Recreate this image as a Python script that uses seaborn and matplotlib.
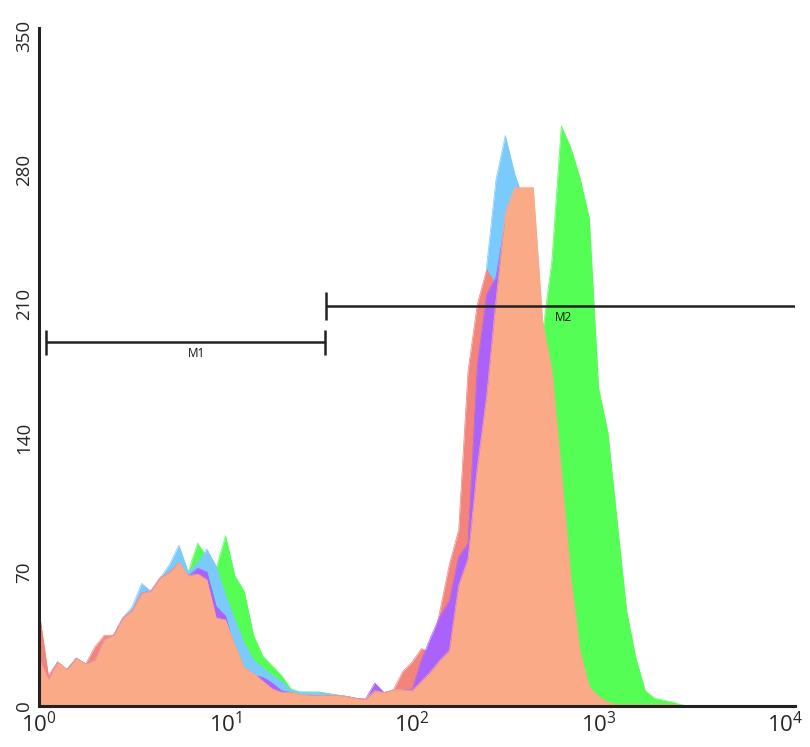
import numpy as np
import matplotlib.pyplot as plt
import seaborn as sns

# channel grid: 81 log-spaced channels from 10^0 to 10^4
channel = np.logspace(0, 4, 81)

peach = [25, 14, 23, 19, 25, 22, 24, 35, 37, 46,
         50, 59, 60, 67, 70, 75, 68, 69, 66, 46,
         45, 32, 20, 17, 13, 9, 7.2, 7, 6, 5.7,
         5.7, 5.7, 5.7, 5, 4, 3.5, 8, 7, 8.5, 8.5,
         8, 13, 18, 24, 29, 63, 77, 125, 162, 212,
         258, 271, 271, 271, 201, 175, 123, 68, 29, 10,
         5, 2, 1, 1, 1, 1, 1, 1, 1, 0,
         0, 0, 0, 0, 0, 0, 0, 0, 0, 0, 0]

red = [50, 16, 23, 19, 25, 22, 31, 37, 37, 46,
       50, 59, 60, 67, 70, 75, 68, 69, 66, 46,
       45, 32, 20, 17, 13, 9, 7, 7, 6, 5.5,
       5.5, 5.5, 5.5, 5, 4, 3.5, 8, 7, 8.5, 18,
       23, 30, 28, 50, 74, 92, 175, 210, 228, 220,
       240, 250, 240, 220, 170, 140, 95, 50, 20, 7,
       3, 1, 0, 0, 0, 0, 0, 0, 0, 0,
       0, 0, 0, 0, 0, 0, 0, 0, 0, 0, 0]

purple = [25, 14, 23, 19, 25, 22, 24, 35, 37, 46,
          50, 59, 60, 67, 70, 74, 68, 72, 70, 52,
          47, 30, 17, 16, 15, 12, 8, 7, 4, 5.5,
          5.5, 5.5, 5.5, 5, 4, 3.5, 12, 7, 8, 8.5,
          8.5, 24, 36, 47, 55, 78, 85, 178, 215, 224,
          253, 260, 255, 240, 185, 150, 105, 55, 22, 8,
          3, 1, 0, 0, 0, 0, 0, 0, 0, 0,
          0, 0, 0, 0, 0, 0, 0, 0, 0, 0, 0]

blue = [25, 14, 23, 19, 25, 22, 24, 35, 37, 46,
        52, 64, 60, 67, 74, 84, 70, 75, 82, 73,
        58, 45, 33, 24, 20, 16, 13, 8.4, 7.3, 7.3,
        7.3, 6.5, 5.7, 5, 4, 3.5, 7, 7, 8, 8,
        8, 15, 25, 40, 50, 70, 100, 150, 230, 275,
        298, 278, 264, 230, 180, 150, 100, 50, 20, 7,
        3, 1, 0, 0, 0, 0, 0, 0, 0, 0,
        0, 0, 0, 0, 0, 0, 0, 0, 0, 0, 0]

green = [25, 14, 23, 19, 25, 22, 24, 35, 37, 46,
         50, 59, 60, 67, 70, 75, 70, 85, 78, 72,
         89, 68, 60, 37, 26, 21, 16, 9, 7.3, 7.3,
         7.3, 6.5, 5.7, 5, 4, 3.5, 5, 5, 6, 6,
         6, 8, 12, 16, 22, 35, 55, 80, 110, 130,
         150, 165, 180, 160, 195, 233, 303, 292, 276, 255,
         166, 143, 96, 50, 25, 8, 4, 3, 2, 0.5,
         0, 0, 0, 0, 0, 0, 0, 0, 0, 0, 0]

# back to front
series = [("green", green, "#55FE55"),
          ("blue", blue, "#7ACAFB"),
          ("red", red, "#F2847C"),
          ("purple", purple, "#AB62FB"),
          ("peach", peach, "#FBAA88")]

# marker gates: (start, stop, level, cap half-height, label, label x, label y)
m1 = (1.09, 34.2, 190, 6.5, "M1", 7.0, 184)
m2 = (34.6, 11300, 209, 7.5, "M2", 645, 203)

yticks = [0, 70, 140, 210, 280, 350]
xticks = [1, 10, 100, 1000, 10000]
xlabels = ["$10^{0}$", "$10^{1}$", "$10^{2}$", "$10^{3}$", "$10^{4}$"]

sns.set_style("ticks")
plt.rcParams["font.family"] = ["Open Sans", "DejaVu Sans"]
plt.rcParams["mathtext.default"] = "regular"

fig = plt.figure(figsize=(8.1, 7.47), dpi=100)
ax = fig.add_axes([39 / 810, 41 / 747, 756 / 810, 678 / 747])

for k, (name, vals, col) in enumerate(series):
    ax.fill_between(channel, 0, vals, color=col, lw=0, zorder=1 + k)
    sns.lineplot(x=channel, y=vals, color=col, lw=0.5, ax=ax, zorder=1 + k)

ink = "#222222"
for start, stop, level, cap, lab, lx, ly in [m1, m2]:
    ax.hlines(level, start, stop, color=ink, lw=1.8, zorder=10)
    ax.vlines(start, level - cap, level + cap, color=ink, lw=1.8, zorder=10)
    if stop < 10000:
        ax.vlines(stop, level - cap, level + cap, color=ink, lw=1.8, zorder=10)
    ax.text(lx, ly, lab, ha="center", va="center", fontsize=8.5,
            color="#111111", zorder=11)

ax.set_xscale("log")
ax.set_xlim(1, 11300)
ax.set_ylim(0, 354.2)
ax.set_xticks(xticks)
ax.set_xticklabels(xlabels, fontsize=16)
ax.minorticks_off()
ax.set_yticks(yticks)
ax.set_yticklabels([str(v) for v in yticks], fontsize=13.5, rotation=90, va="center")
ax.tick_params(length=0, pad=4)

sns.despine(ax=ax)
for s in ["left", "bottom"]:
    ax.spines[s].set_linewidth(2.2)
    ax.spines[s].set_color(ink)
    ax.spines[s].set_zorder(12)

fig.savefig("out.png", dpi=100)
